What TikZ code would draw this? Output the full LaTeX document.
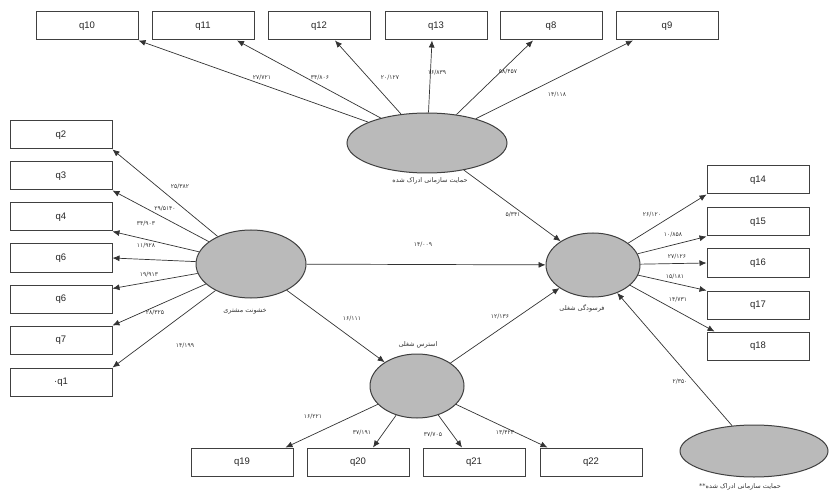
\documentclass[tikz,border=0pt]{standalone}
\usepackage{fontspec}
\setsansfont{Liberation Sans}
\newfontfamily\arabicfont[Script=Arabic]{DejaVu Sans}
\TeXXeTstate=1
\usetikzlibrary{arrows.meta,shapes.geometric}
\tikzset{
	indbox/.style={draw=black!75, line width=1pt, fill=white, minimum width=102pt, minimum height=28pt, inner sep=0pt, font=\sffamily\fontsize{9.5}{10}\selectfont, text=black!85},
	latent/.style={ellipse, draw=black!75, line width=1pt, fill=black!27, inner sep=0pt},
	link/.style={draw=black!80, line width=0.7pt, -{Latex[length=7pt,width=6pt]}},
	coef/.style={font=\arabicfont\fontsize{6}{6}\selectfont, text=black!80, inner sep=0.5pt},
	lvname/.style={font=\arabicfont\fontsize{6.5}{7}\selectfont, text=black!80, inner sep=0.5pt}
}

\begin{document}
\begin{tikzpicture}[x=1pt, y=-1pt]
		%%%%% START %%%%%
		\useasboundingbox (0, 0) rectangle (830, 497);
		
		% latent variables
		\node[latent, minimum width=160pt, minimum height=60pt] (org) at (427, 143) {};
		\node[latent, minimum width=110pt, minimum height=68pt] (cust) at (251, 264) {};
		\node[latent, minimum width=94pt, minimum height=64pt] (burn) at (593, 265) {};
		\node[latent, minimum width=94pt, minimum height=64pt] (stress) at (417, 386) {};
		\node[latent, minimum width=148pt, minimum height=52pt] (orgb) at (754, 451) {};
		
		\node[lvname] (norg) at (430, 181) {\beginR حمایت سازمانی ادراک شده\endR};
		\node[lvname] (ncust) at (245, 311) {\beginR خشونت مشتری\endR};
		\node[lvname] (nburn) at (582, 308) {\beginR فرسودگی شغلی\endR};
		\node[lvname] (nstress) at (418, 345) {\beginR استرس شغلی\endR};
		\node[lvname] (norgb) at (740, 487) {\beginR حمایت سازمانی ادراک شده**\endR};
		
		% top row
		\node[indbox] (q10) at (87, 26) {q10};
		\node[indbox] (q11) at (203, 26) {q11};
		\node[indbox] (q12) at (319, 26) {q12};
		\node[indbox] (q13) at (436, 26) {q13};
		\node[indbox] (q8) at (551, 26) {q8};
		\node[indbox] (q9) at (667, 26) {q9};
		
		% left column
		\node[indbox] (q2) at (61, 135) {q2};
		\node[indbox] (q3) at (61, 176) {q3};
		\node[indbox] (q4) at (61, 217) {q4};
		\node[indbox] (q5) at (61, 258) {q6};
		\node[indbox] (q6) at (61, 299) {q6};
		\node[indbox] (q7) at (61, 340) {q7};
		\node[indbox] (q1) at (61, 382) {·q1};
		
		% right column
		\node[indbox] (q14) at (758, 180) {q14};
		\node[indbox] (q15) at (758, 222) {q15};
		\node[indbox] (q16) at (758, 263) {q16};
		\node[indbox] (q17) at (758, 305) {q17};
		\node[indbox] (q18) at (758, 346) {q18};
		
		% bottom row
		\node[indbox] (q19) at (242, 462) {q19};
		\node[indbox] (q20) at (358, 462) {q20};
		\node[indbox] (q21) at (474, 462) {q21};
		\node[indbox] (q22) at (591, 462) {q22};
		
		% loadings
		\draw[link] (org) -- (q10.south east);
		\draw[link] (org) -- ([xshift=34pt]q11.south);
		\draw[link] (org) -- ([xshift=16pt]q12.south);
		\draw[link] (org) -- ([xshift=-4pt]q13.south);
		\draw[link] (org) -- ([xshift=-18pt]q8.south);
		\draw[link] (org) -- ([xshift=-34pt]q9.south);
		
		\draw[link] (cust) -- (q2.south east);
		\draw[link] (cust) -- (q3.south east);
		\draw[link] (cust) -- (q4.south east);
		\draw[link] (cust) -- (q5.east);
		\draw[link] (cust) -- ([yshift=-4pt]q6.north east);
		\draw[link] (cust) -- (q7.north east);
		\draw[link] (cust) -- (q1.north east);
		
		\draw[link] (burn) -- (q14.south west);
		\draw[link] (burn) -- (q15.south west);
		\draw[link] (burn) -- (q16.west);
		\draw[link] (burn) -- (q17.north west);
		\draw[link] (burn) -- ([xshift=8pt]q18.north west);
		
		\draw[link] (stress) -- ([xshift=-8pt]q19.north east);
		\draw[link] (stress) -- ([xshift=15pt]q20.north);
		\draw[link] (stress) -- ([xshift=-12pt]q21.north);
		\draw[link] (stress) -- ([xshift=8pt]q22.north west);
		
		% structural paths
		\draw[link] (org) -- (burn);
		\draw[link] (cust) -- (burn);
		\draw[link] (cust) -- (stress);
		\draw[link] (stress) -- (burn);
		\draw[link] (orgb) -- (burn);
		
		% coefficients
		\node[coef] (l10) at (262, 78) {۲۷/۷۲۱};
		\node[coef] (l11) at (320, 78) {۳۴/۸۰۶};
		\node[coef] (l12) at (390, 78) {۲۰/۱۲۷};
		\node[coef] (l13) at (437, 73) {۱۶/۸۳۹};
		\node[coef] (l8) at (508, 72) {۵۸/۴۵۷};
		\node[coef] (l9) at (557, 95) {۱۴/۱۱۸};
		
		\node[coef] (l2) at (180, 187) {۲۵/۳۸۲};
		\node[coef] (l3) at (165, 209) {۲۹/۵۱۴۰};
		\node[coef] (l4) at (146, 224) {۳۴/۹۰۳};
		\node[coef] (l5) at (146, 246) {۱۱/۹۲۸};
		\node[coef] (l6) at (149, 275) {۱۹/۹۱۳};
		\node[coef] (l7) at (155, 313) {۲۸/۳۲۵};
		\node[coef] (l1) at (185, 346) {۱۴/۱۹۹};
		
		\node[coef] (l14) at (652, 215) {۲۶/۱۲۰};
		\node[coef] (l15) at (673, 235) {۱۰/۸۵۸};
		\node[coef] (l16) at (677, 257) {۲۷/۱۲۶};
		\node[coef] (l17) at (675, 277) {۱۵/۱۸۱};
		\node[coef] (l18) at (678, 300) {۱۴/۷۳۱};
		
		\node[coef] (l19) at (313, 417) {۱۶/۲۲۱};
		\node[coef] (l20) at (362, 433) {۳۷/۱۹۱};
		\node[coef] (l21) at (433, 435) {۳۷/۷۰۵};
		\node[coef] (l22) at (505, 433) {۱۳/۴۲۳};
		
		\node[coef] (lcb) at (423, 245) {۱۴/۰۰۹};
		\node[coef] (lob) at (513, 215) {۵/۳۴۱};
		\node[coef] (lcs) at (352, 319) {۱۶/۱۱۱};
		\node[coef] (lsb) at (500, 317) {۱۲/۱۳۶};
		\node[coef] (lobb) at (680, 382) {۲/۳۵۰};
		
		%%%%% END %%%%%
\end{tikzpicture}
\end{document}
